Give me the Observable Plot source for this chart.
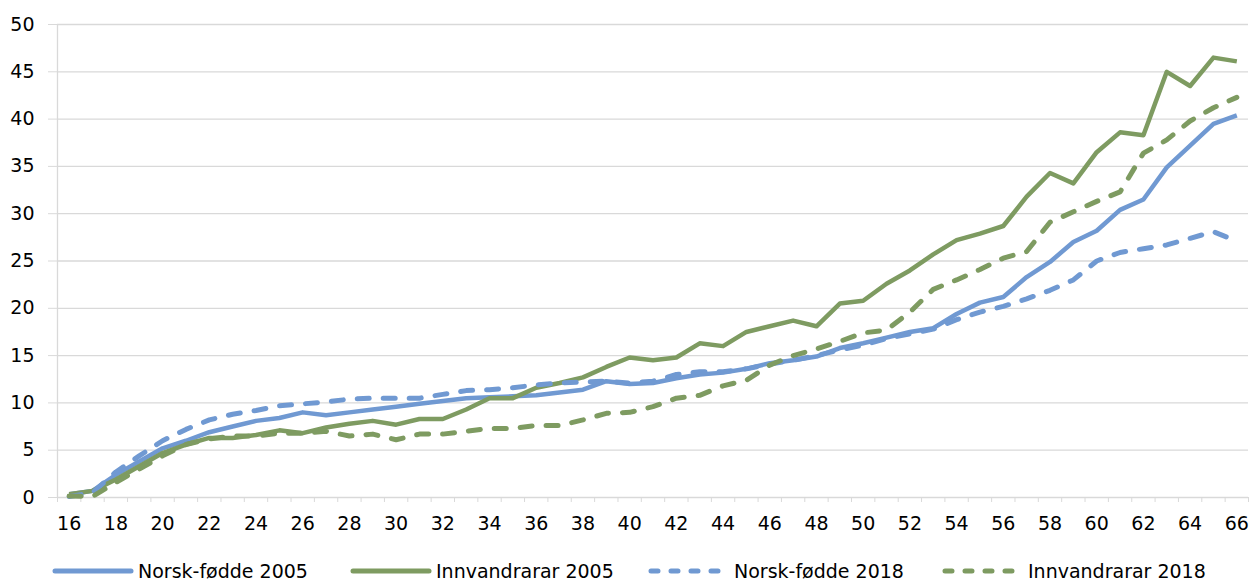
<!DOCTYPE html>
<html>
<head>
<meta charset="utf-8">
<script src="https://cdn.jsdelivr.net/npm/d3@7"></script>
<script src="https://cdn.jsdelivr.net/npm/@observablehq/plot@0.6"></script>
<style>
  html, body { margin: 0; padding: 0; background: #fff; }
  #wrap { position: relative; width: 1253px; height: 584px; overflow: hidden; font-family: "DejaVu Sans", Verdana, sans-serif; }
  #chart { position: absolute; left: 0; top: 0; }
  .leg { position: absolute; top: 559px; height: 24px; line-height: 24px; display: flex; align-items: center; font-size: 19px; color: #000; white-space: nowrap; }
  .leg svg { margin-right: 4px; }
</style>
</head>
<body>
<div id="wrap">
  <div id="chart"></div>
</div>
<script>
const ages = d3.range(16, 67);
const seriesNames = ["Norsk-fødde 2005", "Innvandrarar 2005", "Norsk-fødde 2018", "Innvandrarar 2018"];
const seriesColors = ["#7099d2", "#7e9b61", "#7099d2", "#7e9b61"];
const seriesDashed = [false, false, true, true];

const norsk2005 = [0.35,0.7,2.4,3.8,5.2,6.0,6.9,7.5,8.1,8.4,9.0,8.7,9.0,9.3,9.6,9.9,10.2,10.5,10.6,10.7,10.8,11.1,11.4,12.3,12.0,12.1,12.6,13.0,13.2,13.6,14.2,14.5,14.9,15.8,16.3,16.9,17.5,17.9,19.4,20.6,21.2,23.3,24.9,27.0,28.2,30.4,31.5,34.9,37.2,39.5,40.4];
const innv2005 = [0.35,0.7,1.9,3.3,4.7,5.6,6.3,6.3,6.6,7.1,6.8,7.4,7.8,8.1,7.7,8.3,8.3,9.3,10.5,10.5,11.6,12.1,12.7,13.8,14.8,14.5,14.8,16.3,16.0,17.5,18.1,18.7,18.1,20.5,20.8,22.6,24.0,25.7,27.2,27.9,28.7,31.8,34.3,33.2,36.5,38.6,38.3,45.0,43.5,46.5,46.1];
const norsk2018 = [0.1,0.5,2.7,4.4,6.0,7.2,8.2,8.8,9.2,9.7,9.9,10.1,10.4,10.5,10.5,10.5,10.9,11.3,11.4,11.6,11.9,12.1,12.2,12.3,12.1,12.3,13.0,13.3,13.3,13.6,14.1,14.5,15.0,15.6,16.1,16.8,17.3,17.8,18.8,19.6,20.2,21.0,21.9,23.0,25.0,25.9,26.3,26.7,27.4,28.1,27.1];
const innv2018 = [0.15,0.1,1.6,3.0,4.4,5.6,6.2,6.5,6.5,6.8,6.8,7.0,6.5,6.7,6.1,6.7,6.7,7.0,7.3,7.3,7.6,7.6,8.2,8.9,9.0,9.6,10.5,10.8,11.8,12.4,14.0,15.0,15.7,16.5,17.4,17.7,19.6,22.0,23.0,24.1,25.3,26.0,29.1,30.2,31.3,32.3,36.4,37.8,39.8,41.2,42.3];

const yTicks = d3.range(0, 51, 5);
const xLabelTicks = d3.range(16, 67, 2);
const xBoundaryTicks = d3.range(15.5, 67, 1);

const allValues = [norsk2005, innv2005, norsk2018, innv2018];
const rows = [];
allValues.forEach((vals, si) => {
  vals.forEach((v, i) => rows.push({age: ages[i], value: v, series: seriesNames[si]}));
});

const lineMarks = seriesNames.map((name, si) =>
  Plot.line(rows.filter(r => r.series === name), {
    x: "age", y: "value",
    stroke: seriesColors[si],
    strokeWidth: seriesDashed[si] ? 5 : 4.5,
    strokeDasharray: seriesDashed[si] ? "12,14" : null,
    strokeLinecap: seriesDashed[si] ? "round" : "butt",
    strokeLinejoin: "round"
  })
);

const chart = Plot.plot({
  width: 1253,
  height: 545,
  marginLeft: 57,
  marginRight: 5,
  marginTop: 24,
  marginBottom: 48,
  style: {fontFamily: "'DejaVu Sans', Verdana, sans-serif", fontSize: "19px", background: "#fff", color: "#000"},
  x: {type: "linear", domain: [15.5, 66.5]},
  y: {domain: [0, 50]},
  marks: [
    Plot.ruleY(yTicks, {stroke: "#d9d9d9", strokeWidth: 1.3}),
    Plot.ruleX([15.5], {stroke: "#d9d9d9", strokeWidth: 1.3}),
    Plot.axisY({ticks: yTicks, tickSize: 9, tickPadding: 14, stroke: "#d9d9d9", fill: "#000", label: null, tickFormat: d => String(d)}),
    Plot.axisX({ticks: xBoundaryTicks, tickSize: 5, stroke: "#d9d9d9", tickFormat: () => "", label: null}),
    Plot.axisX({ticks: xLabelTicks, tickSize: 0, tickPadding: 19, fill: "#000", label: null, tickFormat: d => String(d)}),
    ...lineMarks
  ]
});
document.getElementById("chart").appendChild(chart);

const legendLefts = [52, 350, 648, 942];
const wrap = document.getElementById("wrap");
seriesNames.forEach((name, si) => {
  const div = document.createElement("div");
  div.className = "leg";
  div.style.left = legendLefts[si] + "px";
  const dash = seriesDashed[si] ? 'stroke-dasharray="7,13" stroke-linecap="round"' : 'stroke-linecap="round"';
  div.innerHTML = `<svg width="82" height="10"><line x1="3" y1="5" x2="79" y2="5" stroke="${seriesColors[si]}" stroke-width="5" ${dash}></line></svg><span>${name}</span>`;
  wrap.appendChild(div);
});
</script>
</body>
</html>
